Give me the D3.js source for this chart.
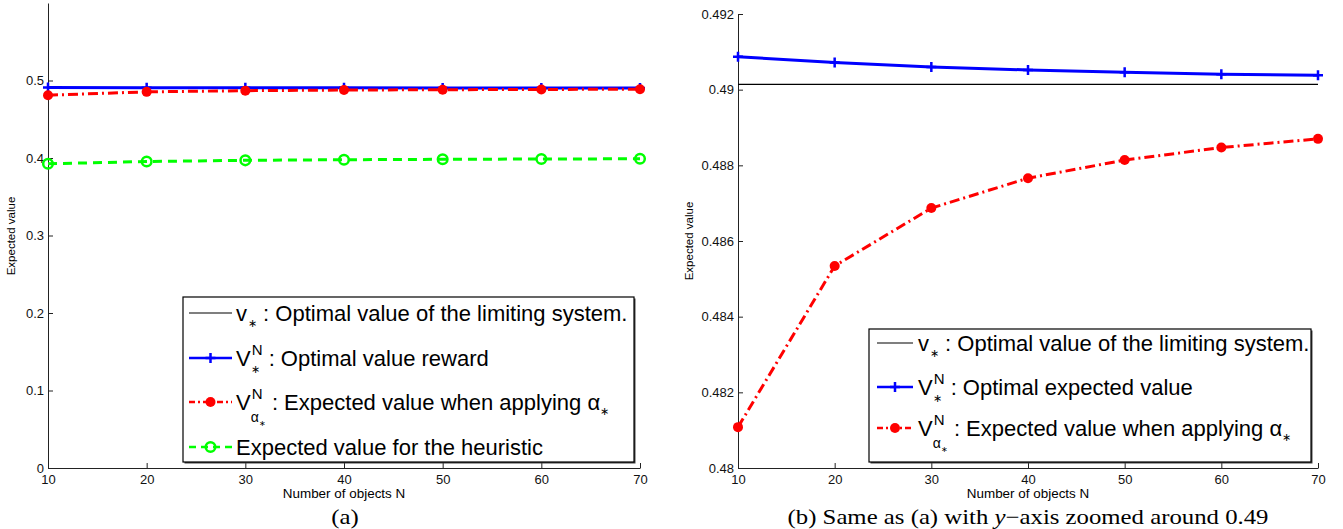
<!DOCTYPE html>
<html lang="en">
<head>
<meta charset="UTF-8">
<script src="https://d3js.org/d3.v7.min.js"></script>
<style>
  body { margin: 0; background: #fff; }
  svg text { font-family: "Liberation Sans", Arial, sans-serif; }
  svg text.caption { font-family: "Liberation Serif", Tinos, "Times New Roman", Times, serif; }
</style>
</head>
<body>
<svg id="chart" width="1343" height="529"></svg>
<script>
// data
const nObjects = [10, 20, 30, 40, 50, 60, 70];
const vStar = 0.49014;                       // limiting system
const vNStar = [0.49087, 0.49072, 0.49060, 0.49052, 0.49046, 0.49041, 0.49038];
const vNAlpha = [0.48108, 0.48534, 0.48687, 0.48766, 0.48814, 0.48847, 0.48870];
const heuristic = [0.3925, 0.3955, 0.3970, 0.3978, 0.3983, 0.3987, 0.3990];

const leftYTicks = [0, 0.1, 0.2, 0.3, 0.4, 0.5];
const rightYTicks = [0.48, 0.482, 0.484, 0.486, 0.488, 0.49, 0.492];

const svg = d3.select("#chart");

const styles = {
  vstar: { color: "#000", width: 1.4, dash: null, legDash: null, marker: null },
  vnstar: { color: "#0000ff", width: 3, dash: null, legDash: null, marker: "plus" },
  valpha: { color: "#ff0000", width: 3, dash: "10,4,2,4", legDash: "6,3,2,3", marker: "dot" },
  heur: { color: "#00ff00", width: 3, dash: "9,6", legDash: "7,5", marker: "circle" }
};

function drawMarker(g, type, color, x, y) {
  if (type === "plus") {
    g.append("path").attr("d", `M${x-5},${y}H${x+5}M${x},${y-5}V${y+5}`)
      .attr("stroke", color).attr("stroke-width", 2.5).attr("fill", "none");
  } else if (type === "dot") {
    g.append("circle").attr("cx", x).attr("cy", y).attr("r", 5).attr("fill", color);
  } else if (type === "circle") {
    g.append("circle").attr("cx", x).attr("cy", y).attr("r", 4.8)
      .attr("fill", "none").attr("stroke", color).attr("stroke-width", 2.5);
  }
}

// text pieces: mode "next" = after everything so far, "back" = under the last "next" piece,
// "follow" = right after the previous piece
function drawLabel(g, x, y, pieces) {
  let maxEnd = x, lastStart = x, prevEnd = x;
  pieces.forEach(p => {
    let cx = p.mode === "back" ? lastStart : p.mode === "follow" ? prevEnd : maxEnd;
    if (p.mode === undefined || p.mode === "next") lastStart = cx;
    const t = g.append("text").attr("x", cx + (p.dx || 0)).attr("y", y + (p.shift || 0))
      .attr("font-size", p.size).attr("fill", "#000").style("white-space", "pre").text(p.t);
    const w = t.node().getComputedTextLength();
    prevEnd = cx + (p.dx || 0) + w;
    maxEnd = Math.max(maxEnd, prevEnd);
  });
}

const FS = 22;
const labelDefs = {
  vstar: [{ t: "v", size: FS }, { t: "∗", size: 11, shift: 6, mode: "follow", dx: 1 },
          { t: " : Optimal value of the limiting system.", size: FS }],
  vnstarA: [{ t: "V", size: FS }, { t: "N", size: 15, shift: -11, dx: 1 }, { t: "∗", size: 11, shift: 7, mode: "back" },
            { t: " : Optimal value reward", size: FS }],
  vnstarB: [{ t: "V", size: FS }, { t: "N", size: 15, shift: -11, dx: 1 }, { t: "∗", size: 11, shift: 7, mode: "back" },
            { t: " : Optimal expected value", size: FS }],
  valpha: [{ t: "V", size: FS }, { t: "N", size: 15, shift: -11, dx: 1 }, { t: "α", size: 14, shift: 12, mode: "back" },
           { t: "∗", size: 8, shift: 16, mode: "follow" },
           { t: " : Expected value when applying ", size: FS }, { t: "α", size: FS },
           { t: "∗", size: 11, shift: 5, mode: "follow" }],
  heur: [{ t: "Expected value for the heuristic", size: FS }]
};

function drawPanel(cfg) {
  const x = d3.scaleLinear().domain([10, 70]).range(cfg.xRange);
  const y = d3.scaleLinear().domain(cfg.yDomain).range([468, cfg.yTop]);
  const g = svg.append("g");

  // axes: ticks point inward, no box
  const xAxis = g.append("g").attr("transform", "translate(0,468)")
    .call(d3.axisBottom(x).tickValues(nObjects).tickSizeInner(-5).tickSizeOuter(0).tickPadding(7));
  const yAxis = g.append("g").attr("transform", `translate(${cfg.xRange[0]},0)`)
    .call(d3.axisLeft(y).tickValues(cfg.yTicks).tickSizeInner(-5).tickSizeOuter(0).tickPadding(4)
      .tickFormat(d => String(+d.toFixed(3))));
  [xAxis, yAxis].forEach(a => {
    a.selectAll("path, line").attr("stroke", "#222").attr("stroke-width", 1);
    a.selectAll("text").attr("font-size", 13).attr("fill", "#111")
      .style("font-family", '"Liberation Sans", Arial, sans-serif');
  });

  const line = d3.line().x((d, i) => x(nObjects[i])).y(d => y(d));

  cfg.series.forEach(s => {
    const st = styles[s.key];
    const vals = s.values;
    g.append("path").datum(vals).attr("d", line).attr("fill", "none")
      .attr("stroke", st.color).attr("stroke-width", st.width)
      .attr("stroke-dasharray", st.dash);
    if (st.marker) vals.forEach((v, i) => drawMarker(g, st.marker, st.color, x(nObjects[i]), y(v)));
  });

  // axis titles
  const mid = (cfg.xRange[0] + cfg.xRange[1]) / 2;
  g.append("text").attr("transform", `translate(${mid},498) scale(1.12,1)`).attr("text-anchor", "middle")
    .attr("font-size", 12).text("Number of objects N");
  g.append("text").attr("transform", `translate(${cfg.yLabelX},${cfg.yLabelY}) rotate(-90)`)
    .attr("text-anchor", "middle").attr("font-size", 11.5).text("Expected value");
  g.append("text").attr("class", "caption").attr("transform", `translate(${cfg.captionX},524) scale(1.18,1)`)
    .attr("text-anchor", "middle").attr("font-size", 21).text(cfg.caption[0])
    .call(t => { if (cfg.caption.length > 1) {
      t.append("tspan").style("font-style", "italic").text(cfg.caption[1]);
      t.append("tspan").text(cfg.caption[2]);
    }});

  // legend
  const L = cfg.legend;
  const lg = g.append("g");
  lg.append("rect").attr("x", L.x0 + 1.5).attr("y", L.y0 + 1.5).attr("width", L.x1 - L.x0).attr("height", L.y1 - L.y0)
    .attr("fill", "#444");
  lg.append("rect").attr("x", L.x0).attr("y", L.y0).attr("width", L.x1 - L.x0).attr("height", L.y1 - L.y0)
    .attr("fill", "#fff").attr("stroke", "#000").attr("stroke-width", 1.2);
  L.rows.forEach((r, i) => {
    const st = styles[r.key];
    const ry = L.rowY[i];
    lg.append("line").attr("x1", L.sx0).attr("x2", L.sx1).attr("y1", ry).attr("y2", ry)
      .attr("stroke", st.color).attr("stroke-width", st.width === 3 ? 2.5 : 1.2)
      .attr("stroke-dasharray", st.legDash);
    if (st.marker) drawMarker(lg, st.marker, st.color, (L.sx0 + L.sx1) / 2, ry);
    drawLabel(lg, L.tx, ry + 8, labelDefs[r.label]);
  });
}

drawPanel({
  xRange: [48, 640], yDomain: [0, 0.6], yTop: 3, yTicks: leftYTicks,
  yLabelX: 15, yLabelY: 236, captionX: 345, caption: ["(a)"],
  series: [
    { key: "vstar", values: nObjects.map(() => vStar) },
    { key: "vnstar", values: vNStar },
    { key: "valpha", values: vNAlpha },
    { key: "heur", values: heuristic }
  ],
  legend: { x0: 183, y0: 297, x1: 634, y1: 462, sx0: 189, sx1: 232, tx: 236,
    rowY: [313, 358, 402, 447],
    rows: [{ key: "vstar", label: "vstar" }, { key: "vnstar", label: "vnstarA" },
           { key: "valpha", label: "valpha" }, { key: "heur", label: "heur" }] }
});

drawPanel({
  xRange: [738, 1318], yDomain: [0.48, 0.492], yTop: 14, yTicks: rightYTicks,
  yLabelX: 693, yLabelY: 241, captionX: 1028, caption: ["(b) Same as (a) with ", "y", "\u2212axis zoomed around 0.49"],
  series: [
    { key: "vstar", values: nObjects.map(() => vStar) },
    { key: "vnstar", values: vNStar },
    { key: "valpha", values: vNAlpha }
  ],
  legend: { x0: 869, y0: 329, x1: 1311, y1: 462, sx0: 877, sx1: 913, tx: 918,
    rowY: [343, 387, 428],
    rows: [{ key: "vstar", label: "vstar" }, { key: "vnstar", label: "vnstarB" },
           { key: "valpha", label: "valpha" }] }
});
</script>
</body>
</html>
